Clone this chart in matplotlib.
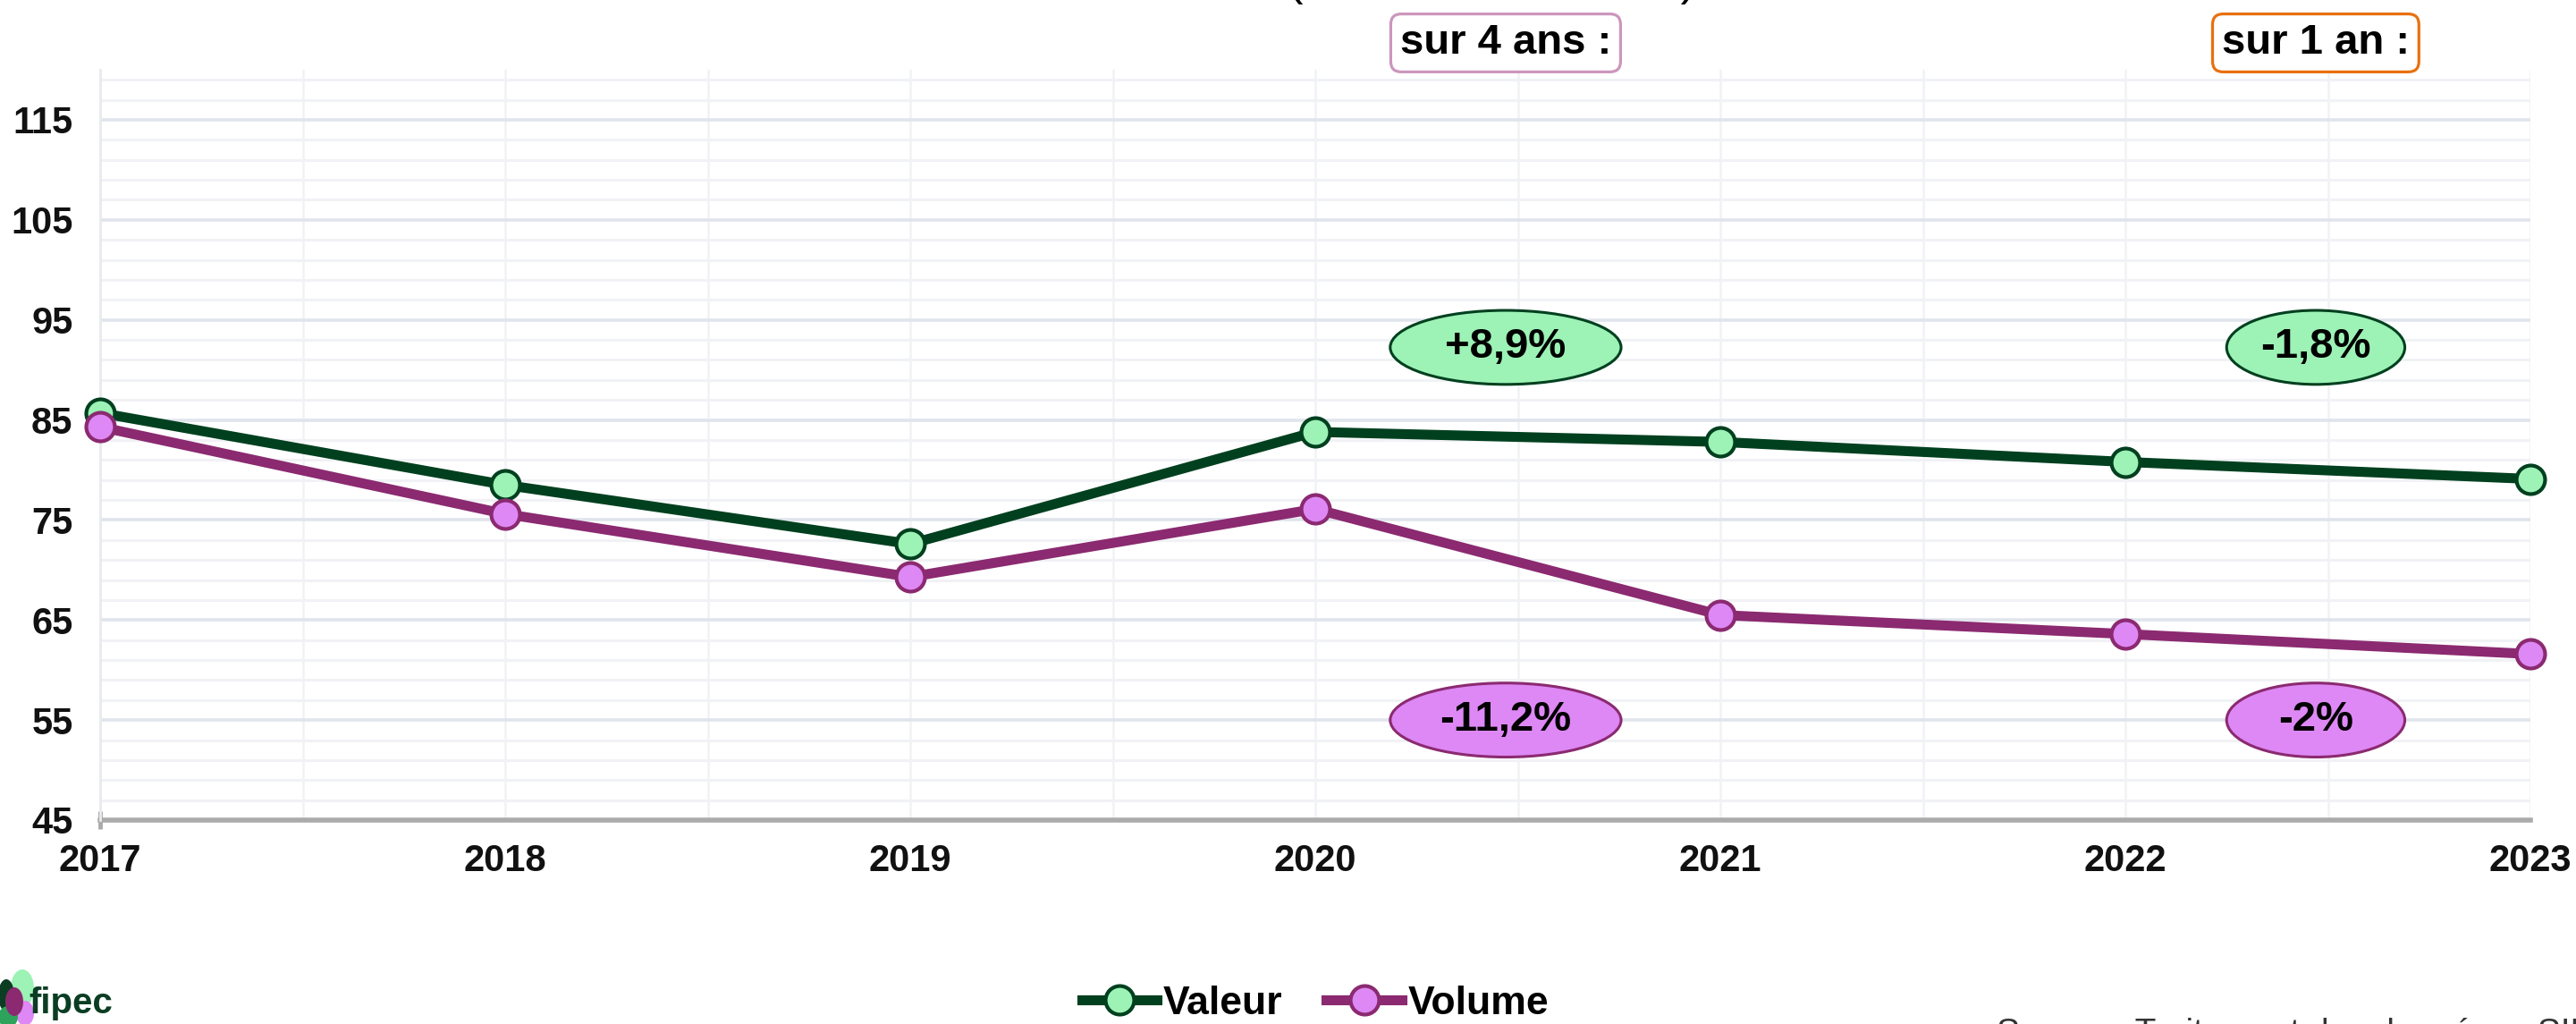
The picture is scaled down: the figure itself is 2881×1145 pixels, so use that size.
#plot.py - indices valeur / volume 2017-2023

import numpy as np
import matplotlib
matplotlib.use('Agg')
import matplotlib.pyplot as plt
import matplotlib.transforms as mtransforms
from matplotlib.patches import Ellipse
from matplotlib.lines import Line2D

matplotlib.rcParams['font.family'] = ['Liberation Sans', 'DejaVu Sans']
narrow = ['Liberation Sans Narrow', 'Liberation Sans', 'DejaVu Sans']

# data
years = [2017, 2018, 2019, 2020, 2021, 2022, 2023]
valeur = [85.7, 78.5, 72.6, 83.8, 82.8, 80.8, 79.1]
volume = [84.3, 75.6, 69.3, 76.1, 65.5, 63.6, 61.6]
yticks = [45, 55, 65, 75, 85, 95, 105, 115]
period_labels = ['sur 4 ans :', 'sur 1 an :']
valeur_changes = ['+8,9%', '-1,8%']
volume_changes = ['-11,2%', '-2%']

dark_green = '#00401f' ; light_green = '#9df2b5'
dark_purple = '#8b2a70' ; light_purple = '#dd88f5'
LW, MS, MEW = 8, 23, 3

W, H = 2881, 1145
fig = plt.figure(figsize=(W/100, H/100), dpi=100)
ax = fig.add_axes([112/W, 1-917/H, (2830-112)/W, (917-78)/H])
ax.set_xlim(2017, 2023) ; ax.set_ylim(45, 120)

# grid
ax.set_yticks(yticks)
ax.set_yticks(np.arange(45, 121, 2), minor=True)
ax.set_xticks(years)
ax.set_xticks(np.arange(2017.5, 2023, 1.0), minor=True)
ax.grid(axis='y', which='minor', color='#f1f2f5', lw=2.2, zorder=0)
ax.grid(axis='y', which='major', color='#e0e4ec', lw=2.6, zorder=0)
ax.grid(axis='x', which='both', color='#f0f2f5', lw=1.8, zorder=0)
ax.set_axisbelow(True)

for s in ['top', 'right']:
    ax.spines[s].set_visible(False)
ax.spines['left'].set_color('#e8eaef') ; ax.spines['left'].set_linewidth(2)
ax.spines['bottom'].set_color('#ababab') ; ax.spines['bottom'].set_linewidth(4)
ax.spines['bottom'].set_zorder(1)

ax.tick_params(axis='y', which='both', length=0, pad=22)
ax.tick_params(axis='x', which='minor', length=0)
ax.tick_params(axis='x', which='major', length=14, width=3.5, color='#ababab',
               direction='inout', pad=12)
for i, t in enumerate(ax.xaxis.get_major_ticks()):
    if i > 0:
        t.tick1line.set_visible(False)
for lab in ax.get_yticklabels() + ax.get_xticklabels():
    lab.set_fontfamily(narrow) ; lab.set_fontsize(30) ; lab.set_fontweight('bold')
    lab.set_color('#111111')

# lines
ax.plot(years, valeur, color=dark_green, lw=LW, marker='o', ms=MS,
        mfc=light_green, mec=dark_green, mew=MEW, clip_on=False, zorder=4, label='Valeur')
ax.plot(years, volume, color=dark_purple, lw=LW, marker='o', ms=MS,
        mfc=light_purple, mec=dark_purple, mew=MEW, clip_on=False, zorder=4, label='Volume')

# change bubbles
centers = [2020.47, 2022.47]
widths = [0.57, 0.44]
for cx, w, vtxt, otxt in zip(centers, widths, valeur_changes, volume_changes):
    ax.add_patch(Ellipse((cx, 92.25), w, 7.4, fc=light_green, ec=dark_green, lw=2.2, zorder=3))
    ax.text(cx, 92.25, vtxt, ha='center', va='center', fontsize=34, fontweight='bold', zorder=5)
    ax.add_patch(Ellipse((cx, 55.0), w, 7.4, fc=light_purple, ec=dark_purple, lw=2.2, zorder=3))
    ax.text(cx, 55.0, otxt, ha='center', va='center', fontsize=34, fontweight='bold', zorder=5)

# period boxes above the plot
blend = mtransforms.blended_transform_factory(ax.transData, fig.transFigure)
for cx, txt, ec in zip(centers, period_labels, ['#cc96bc', '#e8700f']):
    ax.text(cx, 1-48/H, txt, transform=blend, ha='center', va='center', fontsize=34,
            fontweight='bold', clip_on=False,
            bbox=dict(boxstyle='round,pad=0.22,rounding_size=0.25', fc='white', ec=ec, lw=2.3))

# clipped title at the very top
fig.text(1669/W, 1+6/H, '(base 100 en 2015)', ha='center', va='baseline', fontsize=38)

# legend
handles = [Line2D([], [], color=dark_green, lw=LW, marker='o', ms=MS, mfc=light_green,
                  mec=dark_green, mew=MEW),
           Line2D([], [], color=dark_purple, lw=LW, marker='o', ms=MS, mfc=light_purple,
                  mec=dark_purple, mew=MEW)]
leg = fig.legend(handles, ['Valeur', 'Volume'], loc='center', bbox_to_anchor=(1471/W, 1-1122/H),
                 ncol=2, frameon=False, handlelength=1.9, handletextpad=0.15, columnspacing=1.1,
                 prop={'family': narrow, 'weight': 'bold', 'size': 32})

# logo
lax = fig.add_axes([0, 0, 45/W, 65/H])
lax.set_xlim(0, 45) ; lax.set_ylim(0, 65) ; lax.axis('off')
lax.add_patch(Ellipse((25, 40), 26, 42, fc=light_green, ec='none'))
lax.add_patch(Ellipse((7, 32), 18, 36, fc='#0b3d23', ec='none'))
lax.add_patch(Ellipse((28, 12), 20, 28, fc=light_purple, ec='none'))
lax.add_patch(Ellipse((9, 8), 22, 24, fc='#2ea35c', ec='none'))
lax.add_patch(Ellipse((16, 25), 20, 32, fc=dark_purple, ec='none'))
fig.text(32/W, 1-1133/H, 'fipec', ha='left', va='baseline', fontsize=29, fontweight='bold',
         color='#0b3d23')

# source (cut at the bottom edge, as in the original)
fig.text(2233/W, 1-1138/H, 'Source : Traitement des données ; SIPEV', ha='left', va='top',
         fontsize=28, color='#333333')

fig.savefig('out.png', dpi=100)
